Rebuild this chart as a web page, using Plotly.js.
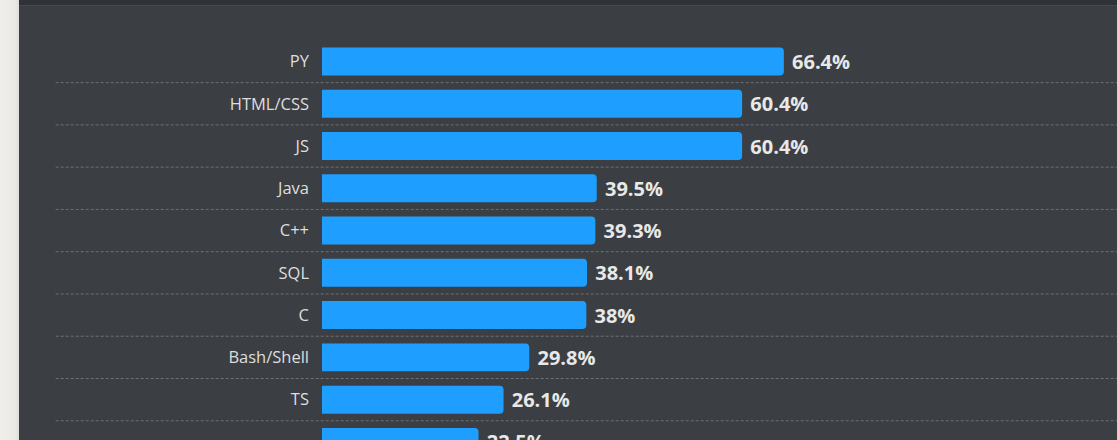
<!DOCTYPE html>
<html>
<head>
<meta charset="utf-8">
<script src="https://cdn.plot.ly/plotly-3.0.1.min.js"></script>
<style>
  html, body { margin: 0; padding: 0; width: 1117px; height: 440px; overflow: hidden; background: #efedea; }
  #strip { position: absolute; left: 0; top: 0; width: 19px; height: 440px; background: linear-gradient(to right, #f1efec 0%, #ebe9e6 80%, #dedcd9 100%); }
  #topband { position: absolute; left: 19px; top: 0; width: 1098px; height: 5px; background: #2f3236; }
  #topline { position: absolute; left: 19px; top: 5px; width: 1098px; height: 1px; background: #45494d; }
  #chart { position: absolute; left: 19px; top: 6px; width: 1098px; height: 434px; }
</style>
</head>
<body>
<div id="strip"></div>
<div id="topband"></div>
<div id="topline"></div>
<div id="chart"></div>
<script>
const categories = ["PY", "HTML/CSS", "JS", "Java", "C++", "SQL", "C", "Bash/Shell", "TS", "C#"];
const values = [66.4, 60.4, 60.4, 39.5, 39.3, 38.1, 38, 29.8, 26.1, 22.5];
const valueLabels = ["66.4%", "60.4%", "60.4%", "39.5%", "39.3%", "38.1%", "38%", "29.8%", "26.1%", "22.5%"];

const bg = "#3b3f43";

const separators = [];
for (let i = 0; i < categories.length - 1; i++) {
  separators.push({
    type: "line", xref: "paper", yref: "y",
    x0: -0.335, x1: 1.0, y0: i + 0.5, y1: i + 0.5,
    line: { color: "#6c7074", width: 1, dash: "3px,2px" },
    layer: "below"
  });
}

const trace = {
  type: "bar",
  orientation: "h",
  x: values,
  y: categories,
  text: valueLabels.map(s => " " + s),
  textposition: "outside",
  textfont: { family: "Open Sans, Noto Sans, sans-serif", size: 20, color: "#e8e8e8", weight: 700 },
  cliponaxis: true,
  marker: { color: "#1e9fff", cornerradius: 4 },
  hoverinfo: "none"
};

const layout = {
  width: 1098,
  height: 434,
  margin: { l: 303, r: 0, t: 0, b: 0, pad: 0 },
  paper_bgcolor: bg,
  plot_bgcolor: bg,
  bargap: 0.338,
  showlegend: false,
  xaxis: {
    range: [0, 114.3],
    showgrid: false, zeroline: false, showline: false, showticklabels: false, ticks: ""
  },
  yaxis: {
    type: "category",
    range: [8.955, -1.313],
    showgrid: false, zeroline: false, showline: false, ticks: "",
    ticklabelstandoff: 12,
    tickfont: { family: "Open Sans, Noto Sans, sans-serif", size: 16.5, color: "#dedede" }
  },
  shapes: separators,
  font: { family: "Open Sans, sans-serif" }
};

Plotly.newPlot("chart", [trace], layout, { displayModeBar: false, staticPlot: true });
</script>
</body>
</html>
